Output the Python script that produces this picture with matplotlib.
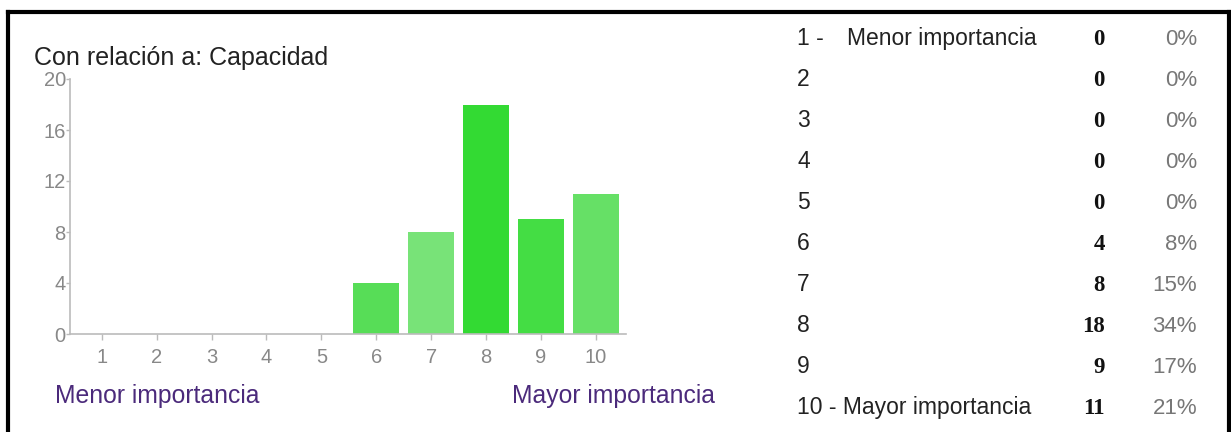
import matplotlib.pyplot as plt
from matplotlib.lines import Line2D

# data
categories = [1, 2, 3, 4, 5, 6, 7, 8, 9, 10]
counts = [0, 0, 0, 0, 0, 4, 8, 18, 9, 11]
percents = [0, 0, 0, 0, 0, 8, 15, 34, 17, 21]
bar_colors = ['#55dd55', '#55dd55', '#55dd55', '#55dd55', '#55dd55',
              '#57dd57', '#78e378', '#33da33', '#44dd44', '#66e066']
yticks = [0, 4, 8, 12, 16, 20]
row_labels = ['1 -', '2', '3', '4', '5', '6', '7', '8', '9',
              '10 - Mayor importancia']
title = 'Con relación a: Capacidad'
low_label = 'Menor importancia'
high_label = 'Mayor importancia'

W, H = 1231, 432
fig = plt.figure(figsize=(W / 100, H / 100), dpi=100)
fig.patch.set_facecolor('white')


def fx(px):
    return px / W


def fy(py):
    return 1 - py / H


# chart area
ax_left, ax_right, ax_top, ax_bottom = 70, 626, 79, 334
ax = fig.add_axes([fx(ax_left), fy(ax_bottom), fx(ax_right - ax_left),
                   (ax_bottom - ax_top) / H])
ax.bar(categories, counts, width=0.84, color=bar_colors, edgecolor='none')
ax.set_xlim(0.42, 10.55)
ax.set_ylim(0, 20)
ax.set_xticks(categories)
ax.set_yticks(yticks)
for s in ['top', 'right']:
    ax.spines[s].set_visible(False)
for s in ['left', 'bottom']:
    ax.spines[s].set_color('#bbbbbb')
    ax.spines[s].set_linewidth(1.2)
ax.tick_params(axis='y', length=3, width=1, color='#bbbbbb', pad=0,
               labelsize=14.5, labelcolor='#888888')
ax.tick_params(axis='x', length=4, width=1, color='#bbbbbb', pad=6,
               labelsize=14.5, labelcolor='#888888')
for lab in ax.get_xticklabels() + ax.get_yticklabels():
    lab.set_family('Liberation Sans')

fig.text(fx(34), fy(65), title, fontsize=18, family='Liberation Sans',
         color='#222222', va='baseline', ha='left')
fig.text(fx(55), fy(403), low_label, fontsize=17.8, family='Liberation Sans',
         color='#4b2a7b', va='baseline', ha='left')
fig.text(fx(715), fy(403), high_label, fontsize=17.8, family='Liberation Sans',
         color='#4b2a7b', va='baseline', ha='right')

# table on the right
for i, (lab, c, p) in enumerate(zip(row_labels, counts, percents)):
    yb = fy(45 + 41 * i)
    fig.text(fx(797), yb, lab, fontsize=16.5, family='Liberation Sans',
             color='#222222', va='baseline', ha='left')
    fig.text(fx(1105), yb, str(c), fontsize=16.5, family='Liberation Serif',
             weight='bold', color='#111111', va='baseline', ha='right')
    fig.text(fx(1197), yb, '%d%%' % p, fontsize=16,
             family='Liberation Sans', color='#777777', va='baseline',
             ha='right')
fig.text(fx(847), fy(45), low_label, fontsize=16.5, family='Liberation Sans',
         color='#222222', va='baseline', ha='left')

# black frame (top, left, right)
frame = dict(color='black', linewidth=3, transform=fig.transFigure)
fig.add_artist(Line2D([fx(8), fx(1229)], [fy(12), fy(12)], **frame))
fig.add_artist(Line2D([fx(8), fx(8)], [fy(12), 0], **frame))
fig.add_artist(Line2D([fx(1229), fx(1229)], [fy(12), 0], **frame))

fig.savefig('out.png', dpi=100)
